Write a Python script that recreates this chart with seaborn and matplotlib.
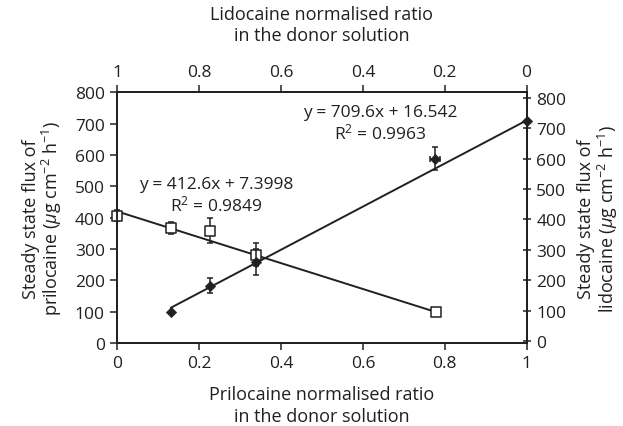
import numpy as np
import pandas as pd
import seaborn as sns
import matplotlib.pyplot as plt

prilo_x = [0.0, 0.131, 0.226, 0.339, 0.778]
prilo_flux = [407, 367, 358, 282, 98]
prilo_err = [18, 20, 40, 36, 10]

lido_x = [0.131, 0.226, 0.339, 0.776, 1.0]
lido_flux = [95, 182, 260, 600, 725]
lido_err = [0, 24, 44, 38, 0]
lido_xerr = [0, 0, 0, 0.012, 0]

# trendline equations printed on the chart (x = normalised ratio of the drug)
prilo_fit = (412.6, 7.3998, 0.9849)
lido_fit = (709.6, 16.542, 0.9963)

ticks = [0, 0.2, 0.4, 0.6, 0.8, 1]
top_labels = ['1', '0.8', '0.6', '0.4', '0.2', '0']
yticks = [0, 100, 200, 300, 400, 500, 600, 700, 800]

ink = '#231f20'

sns.set_style('ticks')
plt.rcParams['font.family'] = ['Open Sans', 'DejaVu Sans']
plt.rcParams['mathtext.fontset'] = 'custom'
plt.rcParams['mathtext.rm'] = 'Open Sans'
plt.rcParams['mathtext.it'] = 'Open Sans:italic'
plt.rcParams['mathtext.bf'] = 'Open Sans:bold'
plt.rcParams['font.size'] = 12
plt.rcParams['text.color'] = ink
plt.rcParams['axes.labelcolor'] = ink
plt.rcParams['xtick.color'] = ink
plt.rcParams['ytick.color'] = ink
plt.rcParams['axes.edgecolor'] = ink

fig = plt.figure(figsize=(6.23, 4.27), dpi=100)
ax = fig.add_axes([0.1883, 0.1944, 0.657, 0.5867])
ax_r = ax.twinx()
ax_t = ax.twiny()

# trendlines, built from the printed equations
line_p = pd.DataFrame({'x': [0.0, prilo_x[-1]]})
line_p['y'] = prilo_fit[0] * (1 - line_p['x']) + prilo_fit[1]
line_l = pd.DataFrame({'x': [lido_x[0], 1.0]})
line_l['y'] = lido_fit[0] * line_l['x'] + lido_fit[1]
sns.lineplot(data=line_p, x='x', y='y', ax=ax, color=ink, lw=1.4)
sns.lineplot(data=line_l, x='x', y='y', ax=ax_r, color=ink, lw=1.4)

# prilocaine: open squares on the left axis
ax.errorbar(prilo_x, prilo_flux, yerr=prilo_err, fmt='none', ecolor=ink,
            elinewidth=1.1, capsize=2.5, capthick=1.1, zorder=3, clip_on=False)
sns.scatterplot(x=prilo_x, y=prilo_flux, ax=ax, marker='s', s=55,
                facecolor='white', edgecolor=ink, linewidth=1.1, zorder=4,
                clip_on=False)

# lidocaine: filled diamonds on the right axis
ax_r.errorbar(lido_x, lido_flux, yerr=lido_err, xerr=lido_xerr, fmt='none',
              ecolor=ink, elinewidth=1.1, capsize=2.5, capthick=1.1, zorder=3,
              clip_on=False)
sns.scatterplot(x=lido_x, y=lido_flux, ax=ax_r, marker='D', s=28,
                color=ink, edgecolor=ink, zorder=4, clip_on=False)

ax.set_xlim(0, 1)
ax.set_ylim(0, 800)
ax.set_xticks(ticks)
ax.set_xticklabels(['0', '0.2', '0.4', '0.6', '0.8', '1'])
ax.set_yticks(yticks)
ax_r.set_ylim(-6.6, 818)
ax_r.set_yticks(yticks)
ax_t.set_xlim(0, 1)
ax_t.set_xticks(ticks)
ax_t.set_xticklabels(top_labels)

for a in (ax, ax_r, ax_t):
    for s in a.spines.values():
        s.set_visible(True)
        s.set_linewidth(1.1)
ax.tick_params(direction='out', length=5, width=1.1, pad=4, labelsize=12.5)
ax_t.tick_params(direction='out', length=5, width=1.1, pad=4, labelsize=12.5)
ax_r.tick_params(direction='inout', length=6, width=1.1, pad=4, labelsize=12.5)

unit = r'($\mu$g cm$^{-2}$ h$^{-1}$)'
ax.set_xlabel('Prilocaine normalised ratio\nin the donor solution',
              fontsize=13, labelpad=10, linespacing=1.25)
ax_t.set_xlabel('Lidocaine normalised ratio\nin the donor solution',
                fontsize=13, labelpad=17, linespacing=1.25)
ax.set_ylabel('Steady state flux of\nprilocaine ' + unit, fontsize=13,
              labelpad=8, linespacing=1.0)
ax_r.set_ylabel('Steady state flux of\nlidocaine ' + unit, fontsize=13,
                labelpad=8, linespacing=1.0, rotation=90)

ax.text(0.642, 0.878, 'y = %.1fx + %.3f\nR$^2$ = %.4f' % lido_fit,
        transform=ax.transAxes, ha='center', va='center', fontsize=12.5,
        linespacing=1.15)
ax.text(0.242, 0.589, 'y = %.1fx + %.4f\nR$^2$ = %.4f' % prilo_fit,
        transform=ax.transAxes, ha='center', va='center', fontsize=12.5,
        linespacing=1.15)

fig.savefig('out.png', dpi=100)
